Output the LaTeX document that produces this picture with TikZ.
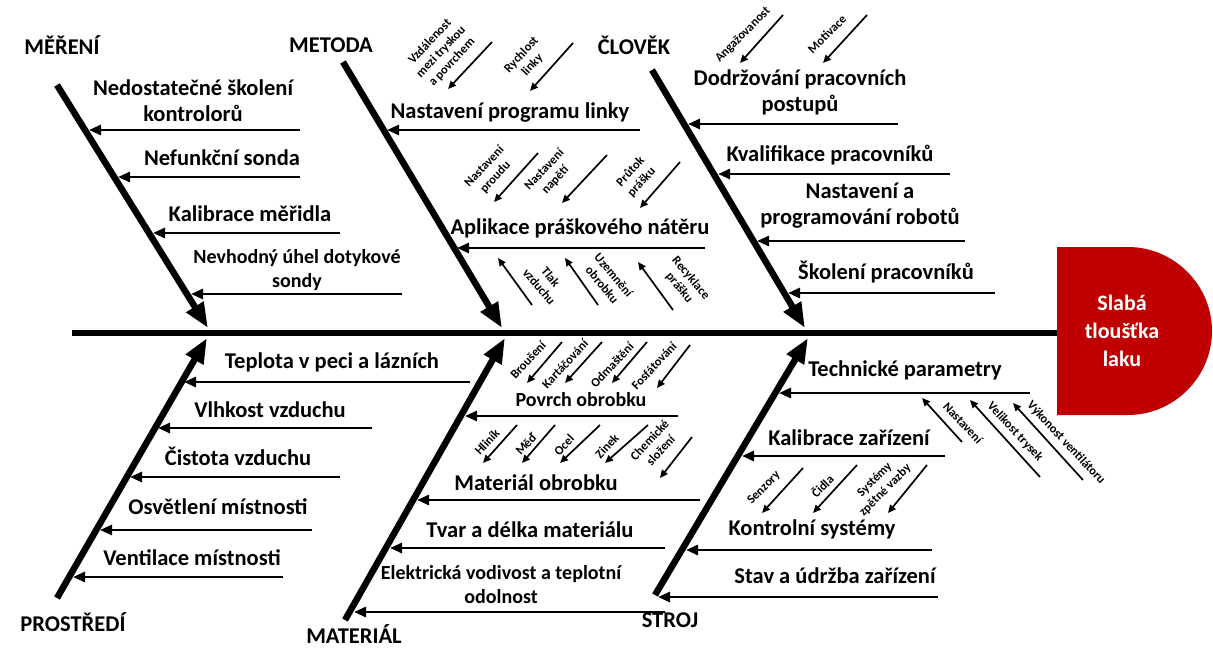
\documentclass[tikz,border=0pt]{standalone}
\usepackage{fontspec}
\setmainfont{Carlito}
\usetikzlibrary{arrows.meta,positioning}
\definecolor{headred}{HTML}{C00000}

\begin{document}
\begin{tikzpicture}[x=1pt, y=-1pt,
    every node/.style={inner sep=0pt},
    cat/.style={font=\fontsize{22.5}{27}\selectfont\bfseries},
    cause/.style={font=\fontsize{22.5}{26}\selectfont\bfseries, align=center},
    smallcause/.style={font=\fontsize{20}{24}\selectfont\bfseries, align=center},
    detail/.style={font=\fontsize{12.5}{15}\selectfont\bfseries, align=center},
    spine/.style={line width=6pt},
    bone/.style={line width=6.5pt, -{Triangle[length=25pt,width=19pt]}},
    sub/.style={line width=2.8pt, -{Triangle[length=12pt,width=10pt]}},
    twig/.style={line width=1.7pt, -{Triangle[length=8pt,width=7pt]}}]
  \useasboundingbox (0,0) rectangle (1213,650);

  % head of the fish
  \fill[headred] (1057,247) -- (1128,247)
    .. controls (1174,247) and (1212,285) .. (1212,331)
    .. controls (1212,377) and (1174,415) .. (1128,415) -- (1057,415) -- cycle;
  \node[text=white, font=\fontsize{22}{28}\selectfont\bfseries, align=center]
    (head) at (1122,331) {Slabá\\tloušťka\\laku};

  % spine and main bones
  \coordinate (tail) at (72,333);
  \coordinate (neck) at (1057,333);
  \draw[spine] (tail) -- (neck);
  \coordinate (meA) at (57,85);   \coordinate (meB) at (208,328);
  \coordinate (moA) at (343,62);  \coordinate (moB) at (502,328);
  \coordinate (clA) at (652,70);  \coordinate (clB) at (805,328);
  \coordinate (prA) at (57,598);  \coordinate (prB) at (207,338);
  \coordinate (maA) at (345,620); \coordinate (maB) at (505,338);
  \coordinate (stA) at (655,595); \coordinate (stB) at (808,338);
  \foreach \b in {me,mo,cl,pr,ma,st}
    \draw[bone] (\b A) -- (\b B);

  % category names
  \node[cat] (mereni) at (62,45) {MĚŘENÍ};
  \node[cat] (metoda) at (331,45) {METODA};
  \node[cat] (clovek) at (634,45) {ČLOVĚK};
  \node[cat] (prostredi) at (73,622) {PROSTŘEDÍ};
  \node[cat] (material) at (354,634) {MATERIÁL};
  \node[cat] (stroj) at (670,620) {STROJ};

  % causes (horizontal arrows)
  \foreach \nm/\y/\xr/\xl in {
      me1/130/300/89, me2/177/300/118, me3/233/340/153, me4/294/402/191,
      mo1/130/640/387, mo2/248/705/457,
      cl1/124/898/688, cl2/174/950/718, cl3/241/965/757, cl4/293/995/788,
      pr1/382/470/184, pr2/428/372/158, pr3/477/340/130, pr4/530/312/100,
      pr5/577/283/73,
      ma1/416/678/465, ma2/500/700/417, ma3/548/665/390, ma4/612/665/354,
      st1/393/1030/779, st2/456/945/742, st3/550/932/686, st4/597/938/658} {
    \coordinate (\nm r) at (\xr,\y);
    \coordinate (\nm l) at (\xl,\y);
    \draw[sub] (\nm r) -- (\nm l);
  }

  \node[cause] (me1t) at (193,101) {Nedostatečné školení\\kontrolorů};
  \node[cause] (me2t) at (222,158) {Nefunkční sonda};
  \node[cause] (me3t) at (250,214) {Kalibrace měřidla};
  \node[smallcause] (me4t) at (297,270) {Nevhodný úhel dotykové\\sondy};
  \node[cause] (mo1t) at (510,113) {Nastavení programu linky};
  \node[cause] (mo2t) at (580,228) {Aplikace práškového nátěru};
  \node[cause] (cl1t) at (800,92) {Dodržování pracovních\\postupů};
  \node[cause] (cl2t) at (830,155) {Kvalifikace pracovníků};
  \node[cause] (cl3t) at (860,206) {Nastavení a\\programování robotů};
  \node[cause] (cl4t) at (886,272) {Školení pracovníků};
  \node[cause] (pr1t) at (332,362) {Teplota v peci a lázních};
  \node[cause] (pr2t) at (270,410) {Vlhkost vzduchu};
  \node[cause] (pr3t) at (238,456) {Čistota vzduchu};
  \node[cause] (pr4t) at (218,507) {Osvětlení místnosti};
  \node[cause] (pr5t) at (192,558) {Ventilace místnosti};
  \node[smallcause] (ma1t) at (581,400) {Povrch obrobku};
  \node[cause] (ma2t) at (536,483) {Materiál obrobku};
  \node[cause] (ma3t) at (530,530) {Tvar a délka materiálu};
  \node[smallcause] (ma4t) at (501,585) {Elektrická vodivost a teplotní\\odolnost};
  \node[cause] (st1t) at (905,370) {Technické parametry};
  \node[cause] (st2t) at (849,438) {Kalibrace zařízení};
  \node[cause] (st3t) at (812,529) {Kontrolní systémy};
  \node[cause] (st4t) at (835,576) {Stav a údržba zařízení};

  % sub-causes (small slanted arrows)
  \foreach \nm/\xa/\ya/\xb/\yb in {
      t1/492/42/448/89, t2/573/43/530/91,
      t3/538/153/494/202, t4/607/155/562/203, t5/680/162/640/208,
      t6/532/305/498/258, t7/598/305/565/258, t8/673/310/638/262,
      t9/783/15/740/63, t10/867/15/823/63,
      t11/562/342/527/383, t12/602/342/565/383, t13/647/342/612/383,
      t14/690/345/657/388,
      t15/517/425/483/463, t16/555/425/522/463, t17/600/425/560/463,
      t18/648/425/605/463, t19/692/437/660/478,
      t20/962/442/922/398, t21/1040/477/970/400, t22/1083/480/1013/403,
      t23/803/468/762/513, t24/857/465/813/513, t25/927/465/888/513} {
    \coordinate (\nm a) at (\xa,\ya);
    \coordinate (\nm b) at (\xb,\yb);
    \draw[twig] (\nm a) -- (\nm b);
  }

  \node[detail, rotate=47] (t1t) at (441,52) {Vzdálenost\\mezi tryskou\\a povrchem};
  \node[detail, rotate=47] (t2t) at (527,60) {Rychlost\\linky};
  \node[detail, rotate=47] (t3t) at (490,172) {Nastavení\\proudu};
  \node[detail, rotate=47] (t4t) at (550,175) {Nastavení\\napětí};
  \node[detail, rotate=47] (t5t) at (636,177) {Průtok\\prášku};
  \node[detail, rotate=-50] (t6t) at (545,282) {Tlak\\vzduchu};
  \node[detail, rotate=-50] (t7t) at (608,280) {Uzemnění\\obrobku};
  \node[detail, rotate=-50] (t8t) at (685,283) {Recyklace\\prášku};
  \node[detail, rotate=45] (t9t) at (743,35) {Angažovanost};
  \node[detail, rotate=45] (t10t) at (827,34) {Motivace};
  \node[detail, rotate=47] (t11t) at (528,360) {Broušení};
  \node[detail, rotate=47] (t12t) at (565,364) {Kartáčování};
  \node[detail, rotate=47] (t13t) at (612,365) {Odmaštění};
  \node[detail, rotate=47] (t14t) at (654,366) {Fosfátování};
  \node[detail, rotate=47] (t15t) at (487,442) {Hliník};
  \node[detail, rotate=47] (t16t) at (526,444) {Měď};
  \node[detail, rotate=47] (t17t) at (564,445) {Ocel};
  \node[detail, rotate=47] (t18t) at (607,446) {Zinek};
  \node[detail, rotate=47] (t19t) at (655,445) {Chemické\\složení};
  \node[detail, rotate=-47] (t20t) at (963,423) {Nastavení};
  \node[detail, rotate=-47] (t21t) at (1015,432) {Velikost trysek};
  \node[detail, rotate=-47] (t22t) at (1066,443) {Výkonost ventilátoru};
  \node[detail, rotate=45] (t23t) at (764,488) {Senzory};
  \node[detail, rotate=45] (t24t) at (822,486) {Čidla};
  \node[detail, rotate=45] (t25t) at (880,485) {Systémy\\zpětné vazby};
\end{tikzpicture}
\end{document}
